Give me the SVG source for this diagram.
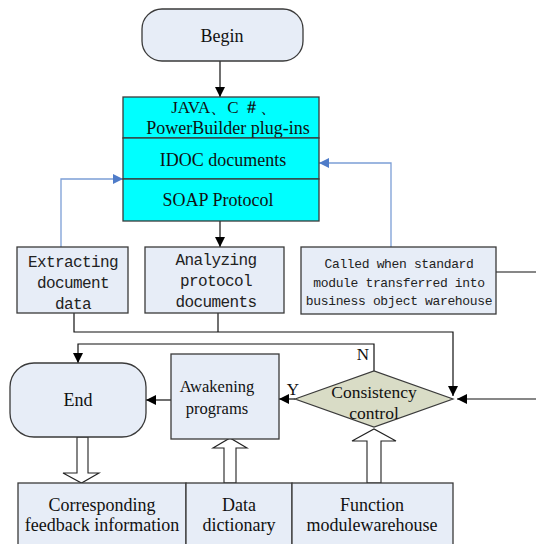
<svg xmlns="http://www.w3.org/2000/svg" width="536" height="544" viewBox="0 0 536 544">
<defs>
<style>
.box{fill:#E7EDF7;stroke:#3a3a3a;stroke-width:1.3}
.cyan{fill:#00FFFF;stroke:#3a3a3a;stroke-width:1.3}
.dia{fill:#D9DCC6;stroke:#3a3a3a;stroke-width:1.2}
.ser{font-family:"Liberation Serif","Times New Roman",serif;fill:#111;text-anchor:middle}
.mono{font-family:"Liberation Mono","Courier New",monospace;fill:#222;text-anchor:middle}
.ln{fill:none;stroke:#111;stroke-width:1.2}
.bl{fill:none;stroke:#7C9ED6;stroke-width:1.3}
.hol{fill:#fff;stroke:#222;stroke-width:1.1}
</style>
<marker id="ah" viewBox="0 0 10 10" refX="10" refY="5" markerWidth="10" markerHeight="10" markerUnits="userSpaceOnUse" orient="auto">
<path d="M0,0 L10,5 L0,10 z" fill="#000"/>
</marker>
<marker id="ahb" viewBox="0 0 10 10" refX="10" refY="5" markerWidth="10" markerHeight="10" markerUnits="userSpaceOnUse" orient="auto">
<path d="M0,0 L10,5 L0,10 z" fill="#4F7CC9"/>
</marker>
</defs>

<g id="connectors">
<path class="ln" d="M220,61 V97" marker-end="url(#ah)"/>
<path class="ln" d="M220,221 V247" marker-end="url(#ah)"/>
<path class="bl" d="M61,247 V179 H123" marker-end="url(#ahb)"/>
<path class="bl" d="M391,247 V163 H319" marker-end="url(#ahb)"/>
<path class="ln" d="M74,313 V332 H453 V396" marker-end="url(#ah)"/>
<path class="ln" d="M218,313 V332"/>
<path class="ln" d="M496,272 H536"/>
<path class="ln" d="M536,399 H457" marker-end="url(#ah)"/>
<path class="ln" d="M374,371 V344 H78 V363" marker-end="url(#ah)"/>
<path class="ln" d="M295,399 H279" marker-end="url(#ah)"/>
<path class="ln" d="M171,400 H146" marker-end="url(#ah)"/>
<path class="hol" d="M77,437 V473 H63 L81.5,483 L99,473 H88 V437 Z"/>
<path class="hol" d="M224,483 V448 H213 L230,438 L247,448 H236 V483 Z"/>
<path class="hol" d="M367,483 V441 H352 L374,429 L396,441 H381 V483 Z"/>
<text class="ser" x="363" y="360" font-size="17">N</text>
<text class="ser" x="293" y="395" font-size="17">Y</text>
</g>

<g id="begin">
<rect class="box" x="142" y="9" width="161" height="52" rx="20" ry="20"/>
<text class="ser" x="222" y="42" font-size="18">Begin</text>
</g>

<g id="plugins">
<rect class="cyan" x="123" y="97" width="196" height="41"/>
<text class="ser" x="224" y="113" font-size="17" font-family="'Liberation Serif','Noto Sans CJK SC',serif">JAVA、C ＃、</text>
<text class="ser" x="228" y="134" font-size="18">PowerBuilder plug-ins</text>
</g>
<g id="idoc">
<rect class="cyan" x="123" y="138" width="196" height="41"/>
<text class="ser" x="223" y="166" font-size="18">IDOC documents</text>
</g>
<g id="soap">
<rect class="cyan" x="123" y="179" width="196" height="42"/>
<text class="ser" x="218" y="206" font-size="18">SOAP Protocol</text>
</g>

<g id="extracting">
<rect class="box" x="17" y="247" width="111" height="66"/>
<text class="mono" font-size="16" letter-spacing="-0.6" x="73" y="267">Extracting</text>
<text class="mono" font-size="16" letter-spacing="-0.6" x="73" y="288">document</text>
<text class="mono" font-size="16" letter-spacing="-0.6" x="73" y="309">data</text>
</g>

<g id="analyzing">
<rect class="box" x="145" y="247" width="139" height="66"/>
<text class="mono" font-size="16" letter-spacing="-0.6" x="216" y="265">Analyzing</text>
<text class="mono" font-size="16" letter-spacing="-0.6" x="216" y="286">protocol</text>
<text class="mono" font-size="16" letter-spacing="-0.6" x="216" y="307">documents</text>
</g>

<g id="called">
<rect class="box" x="301" y="247" width="195" height="67"/>
<text class="mono" font-size="13" letter-spacing="-0.35" x="399" y="268">Called when standard</text>
<text class="mono" font-size="13" letter-spacing="-0.35" x="399" y="287">module transferred into</text>
<text class="mono" font-size="13" letter-spacing="-0.35" x="399" y="305">business object warehouse</text>
</g>

<g id="end">
<rect class="box" x="10" y="363" width="136" height="74" rx="24" ry="24"/>
<text class="ser" x="78" y="406" font-size="18">End</text>
</g>

<g id="awakening">
<rect class="box" x="171" y="354" width="108" height="85"/>
<text class="ser" x="217" y="392" font-size="16.5">Awakening</text>
<text class="ser" x="217" y="414" font-size="16.5">programs</text>
</g>

<g id="consistency">
<path class="dia" d="M295,399 L374,371 L453,399 L374,427 Z"/>
<text class="ser" x="374" y="398" font-size="17.5">Consistency</text>
<text class="ser" x="374" y="419" font-size="17.5">control</text>
</g>

<g id="feedback">
<rect class="box" x="18" y="483" width="168" height="64"/>
<text class="ser" x="102" y="511" font-size="18">Corresponding</text>
<text class="ser" x="102" y="531" font-size="18">feedback information</text>
</g>
<g id="dictionary">
<rect class="box" x="186" y="483" width="106" height="64"/>
<text class="ser" x="239" y="511" font-size="18">Data</text>
<text class="ser" x="239" y="531" font-size="18">dictionary</text>
</g>
<g id="warehouse">
<rect class="box" x="292" y="483" width="161" height="64"/>
<text class="ser" x="372" y="511" font-size="18">Function</text>
<text class="ser" x="372" y="531" font-size="18">modulewarehouse</text>
</g>
</svg>
